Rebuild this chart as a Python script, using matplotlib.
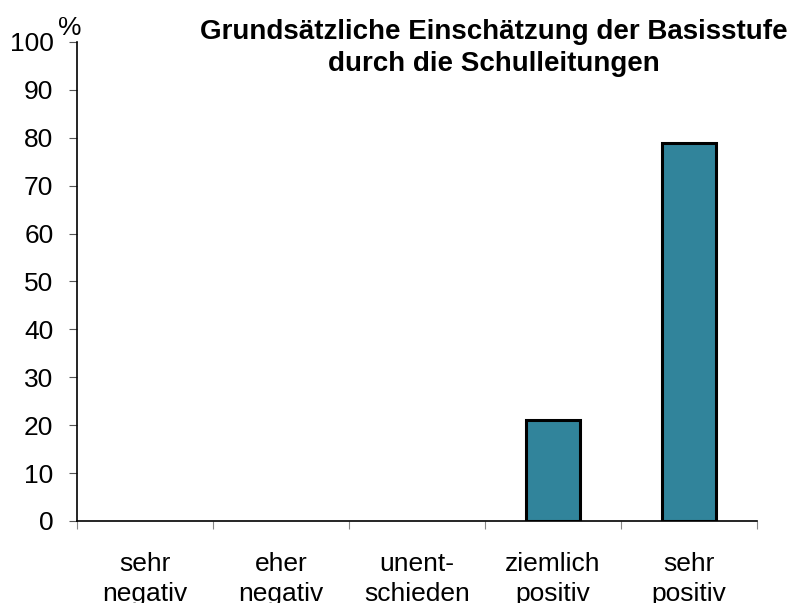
import matplotlib
matplotlib.use("Agg")
import matplotlib.pyplot as plt
import numpy as np

categories = ["sehr\nnegativ", "eher\nnegativ", "unent-\nschieden", "ziemlich\npositiv", "sehr\npositiv"]
values = [0, 0, 0, 21, 79]
yticks = [0, 10, 20, 30, 40, 50, 60, 70, 80, 90, 100]
title = "Grundsätzliche Einschätzung der Basisstufe\ndurch die Schulleitungen"

plt.rcParams['font.family'] = ['Liberation Sans', 'DejaVu Sans']

W, H = 792, 603
fig = plt.figure(figsize=(W / 100, H / 100), dpi=100)
ax = fig.add_axes([77 / W, 1 - 521 / H, (757 - 77) / W, (521 - 42) / H])

x = np.arange(len(categories))
lws = [2.2 if v > 0 else 0 for v in values]
ax.bar(x, values, width=0.4, color="#31849B", edgecolor="black", linewidth=lws, zorder=3)

ax.set_xlim(-0.5, len(categories) - 0.5)
ax.set_ylim(0, 100)
ax.set_yticks(yticks)
ax.set_yticklabels([str(v) for v in yticks], fontsize=19)
ax.tick_params(axis='y', length=6, width=0.8, color="#555555", pad=11)

ax.set_xticks(np.arange(len(categories) + 1) - 0.5)
ax.set_xticklabels([])
ax.tick_params(axis='x', length=6, width=0.8, color="#888888")
ax.set_xticks(x, minor=True)
ax.set_xticklabels(categories, minor=True, fontsize=19, linespacing=1.33)
ax.tick_params(axis='x', which='minor', length=0, pad=22)

for s in ["top", "right"]:
    ax.spines[s].set_visible(False)
for s in ["left", "bottom"]:
    ax.spines[s].set_linewidth(1.2)

fig.text(70 / W, 1 - 28 / H, "%", fontsize=19, ha="center", va="center")
fig.text(494 / W, 1 - 48 / H, title, fontsize=20, fontweight="bold", ha="center", va="center",
         linespacing=1.3)

fig.savefig("out.png", dpi=100)
